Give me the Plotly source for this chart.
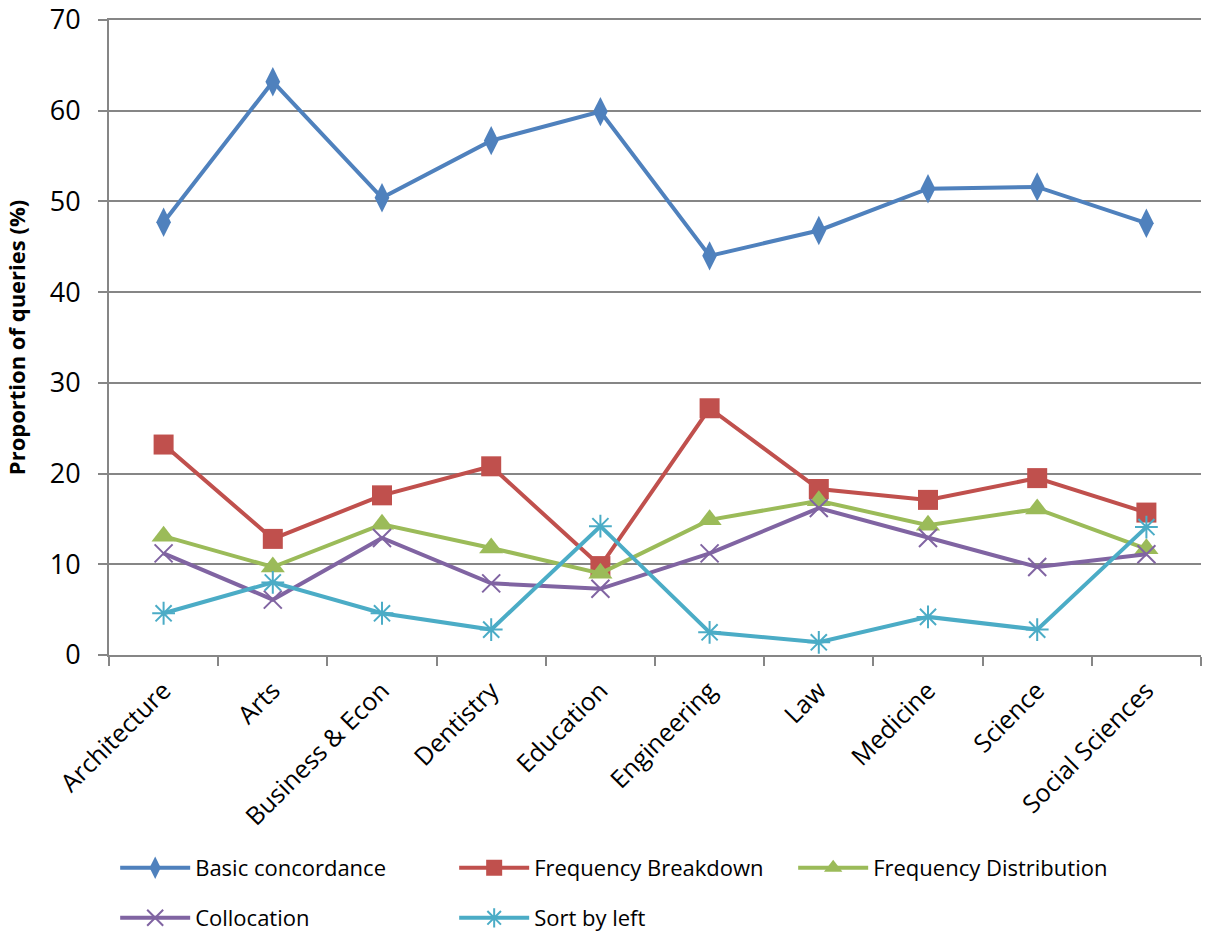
import plotly.graph_objects as go

categories = ["Architecture", "Arts", "Business & Econ", "Dentistry", "Education",
              "Engineering", "Law", "Medicine", "Science", "Social Sciences"]

basic_concordance = [47.7, 63.2, 50.4, 56.7, 59.9, 44.0, 46.8, 51.4, 51.6, 47.6]
frequency_breakdown = [23.2, 12.8, 17.6, 20.8, 9.8, 27.2, 18.3, 17.1, 19.5, 15.7]
frequency_distribution = [13.1, 9.7, 14.4, 11.8, 9.0, 14.9, 17.0, 14.3, 16.1, 11.7]
collocation = [11.2, 6.1, 12.9, 7.9, 7.3, 11.2, 16.2, 12.9, 9.7, 11.1]
sort_by_left = [4.6, 8.0, 4.6, 2.8, 14.2, 2.5, 1.4, 4.2, 2.8, 14.1]

y_ticks = [0, 10, 20, 30, 40, 50, 60, 70]

series = [
    ("Basic concordance", basic_concordance, "#4F81BD",
     dict(symbol="diamond-tall", size=21), "legend"),
    ("Frequency Breakdown", frequency_breakdown, "#C0504D",
     dict(symbol="square", size=20), "legend"),
    ("Frequency Distribution", frequency_distribution, "#9BBB59",
     dict(symbol="triangle-up", size=21), "legend"),
    ("Collocation", collocation, "#8064A2",
     dict(symbol="x-thin-open", size=18, line=dict(width=2)), "legend2"),
    ("Sort by left", sort_by_left, "#4BACC6",
     dict(symbol="asterisk-open", size=19, line=dict(width=2)), "legend2"),
]

fig = go.Figure()
for name, vals, color, mk, lg in series:
    marker = dict(color=color, **{k: v for k, v in mk.items() if k != "line"})
    if "line" in mk:
        marker["line"] = dict(color=color, width=mk["line"]["width"])
    fig.add_trace(go.Scatter(
        x=categories, y=vals, name=name, mode="lines+markers",
        line=dict(color=color, width=4),
        marker=marker, legend=lg,
    ))

legend_common = dict(
    orientation="h", xref="container", yref="container",
    x=0.0955, xanchor="left", yanchor="top",
    font=dict(size=22, family="Open Sans"),
    entrywidth=254, entrywidthmode="pixels", itemwidth=70,
    bgcolor="rgba(0,0,0,0)",
)

fig.update_layout(
    width=1206, height=936,
    margin=dict(l=109, r=5, t=20, b=281, autoexpand=False),
    paper_bgcolor="white", plot_bgcolor="white",
    font=dict(family="Open Sans", color="black"),
    showlegend=True,
    legend=dict(y=1 - 847 / 936, **legend_common),
    legend2=dict(y=1 - 897 / 936, **legend_common),
)

fig.update_xaxes(
    type="category", range=[-0.5, 9.5],
    showline=True, linecolor="#868686", linewidth=2, mirror=True,
    ticks="outside", tickson="boundaries", ticklen=9, tickcolor="#868686", tickwidth=2,
    ticklabelstandoff=9,
    tickangle=-45, tickfont=dict(size=25, family="Open Sans"),
    showgrid=False, zeroline=False, automargin=False,
)
fig.update_yaxes(
    range=[0, 70.0001], tickvals=y_ticks,
    showline=True, linecolor="#868686", linewidth=2,
    ticks="outside", ticklen=9, tickcolor="#868686", tickwidth=2,
    ticklabelstandoff=12, ticklabeloverflow="allow",
    showgrid=True, gridcolor="#868686", gridwidth=2,
    zeroline=False, automargin=False,
    tickfont=dict(size=27, family="Open Sans"),
    title=dict(text="<b>Proportion of queries (%)</b>", font=dict(size=22, family="Open Sans"),
               standoff=18),
)

fig.write_html("out.html", config={"displayModeBar": False},
               post_script="document.body.style.margin='0';")
